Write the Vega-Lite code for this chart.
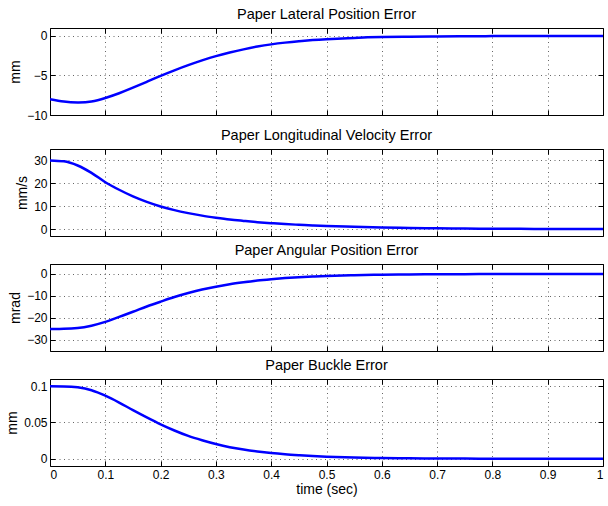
{
  "$schema": "https://vega.github.io/schema/vega-lite/v6.json",
  "padding": {"left": 5, "top": 6, "right": 1, "bottom": 4},
  "spacing": 5,
  "config": {
    "font": "Liberation Sans",
    "view": {"stroke": "#000", "strokeWidth": 1},
    "title": {"font": "Liberation Sans", "fontSize": 14.5, "fontWeight": "normal", "color": "#000", "offset": 5},
    "axis": {
      "domain": false,
      "tickColor": "#000",
      "tickSize": -5,
      "tickWidth": 1,
      "labelFont": "Liberation Sans",
      "labelFontSize": 12,
      "labelColor": "#000",
      "labelPadding": 8,
      "titleFont": "Liberation Sans",
      "titleFontSize": 14,
      "titleFontWeight": "normal",
      "titleColor": "#000",
      "gridColor": "#000",
      "gridOpacity": 0.6,
      "gridDash": [1, 3.5],
      "gridWidth": 1
    }
  },
  "data": {"values": [
    {"t": 0, "lat": -8.0, "vel": 30.0, "ang": -25.0, "buck": 0.1},
    {"t": 0.025, "lat": -8.3, "vel": 29.6, "ang": -24.95, "buck": 0.0998},
    {"t": 0.05, "lat": -8.42, "vel": 27.8, "ang": -24.6, "buck": 0.0985},
    {"t": 0.075, "lat": -8.3, "vel": 24.6, "ang": -23.5, "buck": 0.0945},
    {"t": 0.1, "lat": -7.85, "vel": 20.5, "ang": -21.8, "buck": 0.087},
    {"t": 0.125, "lat": -7.25, "vel": 17.2, "ang": -19.5, "buck": 0.0775},
    {"t": 0.15, "lat": -6.55, "vel": 14.3, "ang": -17.2, "buck": 0.067},
    {"t": 0.175, "lat": -5.8, "vel": 11.9, "ang": -14.8, "buck": 0.057},
    {"t": 0.2, "lat": -5.05, "vel": 9.9, "ang": -12.6, "buck": 0.0475},
    {"t": 0.225, "lat": -4.35, "vel": 8.3, "ang": -10.5, "buck": 0.039},
    {"t": 0.25, "lat": -3.7, "vel": 7.0, "ang": -8.7, "buck": 0.0315},
    {"t": 0.275, "lat": -3.1, "vel": 5.9, "ang": -7.1, "buck": 0.0255},
    {"t": 0.3, "lat": -2.55, "vel": 5.0, "ang": -5.8, "buck": 0.0203},
    {"t": 0.325, "lat": -2.1, "vel": 4.2, "ang": -4.7, "buck": 0.016},
    {"t": 0.35, "lat": -1.7, "vel": 3.6, "ang": -3.8, "buck": 0.0127},
    {"t": 0.375, "lat": -1.35, "vel": 3.05, "ang": -3.0, "buck": 0.01},
    {"t": 0.4, "lat": -1.07, "vel": 2.6, "ang": -2.4, "buck": 0.0078},
    {"t": 0.425, "lat": -0.85, "vel": 2.2, "ang": -1.9, "buck": 0.0061},
    {"t": 0.45, "lat": -0.67, "vel": 1.9, "ang": -1.5, "buck": 0.0048},
    {"t": 0.475, "lat": -0.52, "vel": 1.6, "ang": -1.2, "buck": 0.0037},
    {"t": 0.5, "lat": -0.41, "vel": 1.35, "ang": -0.95, "buck": 0.0029},
    {"t": 0.55, "lat": -0.25, "vel": 1.0, "ang": -0.6, "buck": 0.0017},
    {"t": 0.6, "lat": -0.15, "vel": 0.7, "ang": -0.38, "buck": 0.001},
    {"t": 0.65, "lat": -0.1, "vel": 0.5, "ang": -0.24, "buck": 0.0006},
    {"t": 0.7, "lat": -0.06, "vel": 0.35, "ang": -0.15, "buck": 0.00035},
    {"t": 0.75, "lat": -0.04, "vel": 0.25, "ang": -0.1, "buck": 0.0002},
    {"t": 0.8, "lat": -0.025, "vel": 0.18, "ang": -0.06, "buck": 0.0001},
    {"t": 0.85, "lat": -0.015, "vel": 0.12, "ang": -0.04, "buck": 0.00006},
    {"t": 0.9, "lat": -0.01, "vel": 0.08, "ang": -0.025, "buck": 0.00003},
    {"t": 0.95, "lat": -0.005, "vel": 0.05, "ang": -0.015, "buck": 0.00002},
    {"t": 1, "lat": 0, "vel": 0.03, "ang": -0.01, "buck": 0.00001}
  ]},
  "vconcat": [
    {
      "title": "Paper Lateral Position Error",
      "width": 553, "height": 87,
      "layer": [
        {"mark": {"type": "line", "color": "#0000ff", "strokeWidth": 2.5, "interpolate": "natural", "clip": true},
         "encoding": {
           "x": {"field": "t", "type": "quantitative", "scale": {"domain": [0, 1], "nice": false}, "axis": {"values": [0,0.1,0.2,0.3,0.4,0.5,0.6,0.7,0.8,0.9,1], "labels": false, "title": null, "grid": true}},
           "y": {"field": "lat", "type": "quantitative", "scale": {"domain": [-10, 1], "nice": false, "zero": false}, "axis": {"values": [-10, -5, 0], "format": "d", "title": "mm", "grid": true}}
         }},
        {"mark": {"type": "line", "opacity": 0},
         "encoding": {
           "x": {"field": "t", "type": "quantitative", "axis": {"orient": "top", "values": [0,0.1,0.2,0.3,0.4,0.5,0.6,0.7,0.8,0.9,1], "labels": false, "title": null, "grid": false}},
           "y": {"field": "lat", "type": "quantitative", "axis": {"orient": "right", "values": [-10, -5, 0], "labels": false, "title": null, "grid": false}}
         }}
      ],
      "resolve": {"axis": {"x": "independent", "y": "independent"}}
    },
    {
      "title": "Paper Longitudinal Velocity Error",
      "width": 553, "height": 87,
      "layer": [
        {"mark": {"type": "line", "color": "#0000ff", "strokeWidth": 2.5, "interpolate": "monotone", "clip": true},
         "encoding": {
           "x": {"field": "t", "type": "quantitative", "scale": {"domain": [0, 1], "nice": false}, "axis": {"values": [0,0.1,0.2,0.3,0.4,0.5,0.6,0.7,0.8,0.9,1], "labels": false, "title": null, "grid": true}},
           "y": {"field": "vel", "type": "quantitative", "scale": {"domain": [-3, 35], "nice": false, "zero": false}, "axis": {"values": [0, 10, 20, 30], "format": "d", "title": "mm/s", "grid": true}}
         }},
        {"mark": {"type": "line", "opacity": 0},
         "encoding": {
           "x": {"field": "t", "type": "quantitative", "axis": {"orient": "top", "values": [0,0.1,0.2,0.3,0.4,0.5,0.6,0.7,0.8,0.9,1], "labels": false, "title": null, "grid": false}},
           "y": {"field": "vel", "type": "quantitative", "axis": {"orient": "right", "values": [0, 10, 20, 30], "labels": false, "title": null, "grid": false}}
         }}
      ],
      "resolve": {"axis": {"x": "independent", "y": "independent"}}
    },
    {
      "title": "Paper Angular Position Error",
      "width": 553, "height": 87,
      "layer": [
        {"mark": {"type": "line", "color": "#0000ff", "strokeWidth": 2.5, "interpolate": "monotone", "clip": true},
         "encoding": {
           "x": {"field": "t", "type": "quantitative", "scale": {"domain": [0, 1], "nice": false}, "axis": {"values": [0,0.1,0.2,0.3,0.4,0.5,0.6,0.7,0.8,0.9,1], "labels": false, "title": null, "grid": true}},
           "y": {"field": "ang", "type": "quantitative", "scale": {"domain": [-35, 4.5], "nice": false, "zero": false}, "axis": {"values": [-30, -20, -10, 0], "format": "d", "title": "mrad", "grid": true}}
         }},
        {"mark": {"type": "line", "opacity": 0},
         "encoding": {
           "x": {"field": "t", "type": "quantitative", "axis": {"orient": "top", "values": [0,0.1,0.2,0.3,0.4,0.5,0.6,0.7,0.8,0.9,1], "labels": false, "title": null, "grid": false}},
           "y": {"field": "ang", "type": "quantitative", "axis": {"orient": "right", "values": [-30, -20, -10, 0], "labels": false, "title": null, "grid": false}}
         }}
      ],
      "resolve": {"axis": {"x": "independent", "y": "independent"}}
    },
    {
      "title": "Paper Buckle Error",
      "width": 553, "height": 87,
      "layer": [
        {"mark": {"type": "line", "color": "#0000ff", "strokeWidth": 2.5, "interpolate": "monotone", "clip": true},
         "encoding": {
           "x": {"field": "t", "type": "quantitative", "scale": {"domain": [0, 1], "nice": false}, "axis": {"values": [0,0.1,0.2,0.3,0.4,0.5,0.6,0.7,0.8,0.9,1], "format": "~g", "title": "time (sec)", "titlePadding": 2, "grid": true}},
           "y": {"field": "buck", "type": "quantitative", "scale": {"domain": [-0.01, 0.11], "nice": false, "zero": false}, "axis": {"values": [0, 0.05, 0.1], "format": "~g", "title": "mm", "grid": true}}
         }},
        {"mark": {"type": "line", "opacity": 0},
         "encoding": {
           "x": {"field": "t", "type": "quantitative", "axis": {"orient": "top", "values": [0,0.1,0.2,0.3,0.4,0.5,0.6,0.7,0.8,0.9,1], "labels": false, "title": null, "grid": false}},
           "y": {"field": "buck", "type": "quantitative", "axis": {"orient": "right", "values": [0, 0.05, 0.1], "labels": false, "title": null, "grid": false}}
         }}
      ],
      "resolve": {"axis": {"x": "independent", "y": "independent"}}
    }
  ]
}
